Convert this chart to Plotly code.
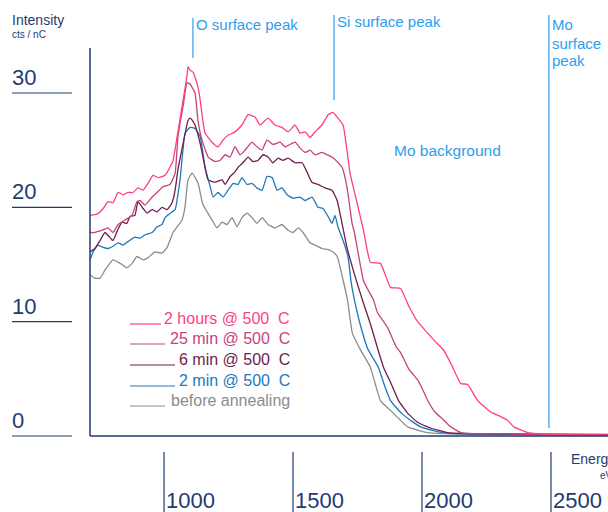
import plotly.graph_objects as go

# ---------------- data ----------------
energy_2h = [713, 740, 764, 783, 802, 822, 841, 860, 880, 899, 919, 938, 957, 977, 1004, 1023, 1035, 1051,
             1074, 1089, 1093, 1101, 1113, 1132, 1140, 1159, 1186, 1209, 1229, 1248, 1275, 1302, 1326, 1353,
             1372, 1403, 1430, 1457, 1481, 1508, 1527, 1547, 1566, 1585, 1612, 1636, 1655, 1674, 1694, 1709,
             1721, 1746, 1773, 1800, 1839, 1878, 1917, 1950, 1983, 2022, 2050, 2084, 2115, 2150, 2177, 2216,
             2266, 2305, 2330, 2356, 2410, 2450, 2500, 2600, 2725]
int_2h = [19.3, 19.4, 19.9, 20.5, 20.4, 21.3, 21.1, 21.3, 21.3, 21.7, 21.5, 22.1, 22.8, 22.6, 22.8, 23.5, 24.1, 26.2,
          29.4, 31.5, 32.3, 32.0, 31.8, 30.5, 29.4, 26.5, 25.7, 25.3, 25.9, 26.3, 26.6, 27.2, 28.1, 27.9,
          27.2, 27.8, 27.2, 27.0, 26.6, 27.2, 26.5, 26.6, 26.1, 26.6, 27.2, 28.1, 28.3, 27.8, 27.2, 25.0,
          23.0, 20.6, 18.0, 15.2, 15.1, 13.0, 12.9, 11.3, 10.0, 9.0, 8.3, 7.5, 6.2, 4.6, 4.5, 3.1,
          2.1, 1.7, 1.4, 0.8, 0.3, 0.2, 0.15, 0.12, 0.1]

energy_25m = [713, 732, 760, 783, 802, 822, 849, 876, 895, 907, 926, 954, 973, 996, 1023, 1043, 1054, 1075,
              1089, 1100, 1120, 1132, 1147, 1171, 1198, 1217, 1237, 1256, 1275, 1295, 1314, 1341, 1360, 1380,
              1399, 1422, 1450, 1469, 1488, 1508, 1527, 1547, 1566, 1585, 1612, 1632, 1651, 1671, 1690, 1709,
              1729, 1738, 1773, 1795, 1812, 1827, 1866, 1900, 1917, 1950, 1983, 2006, 2022, 2050, 2084, 2111,
              2150, 2200, 2300, 2400, 2725]
int_25m = [17.8, 17.8, 18.0, 18.2, 17.8, 18.5, 18.9, 19.3, 20.5, 20.6, 20.2, 20.9, 21.3, 21.8, 22.0, 23.0, 26.2, 29.0,
           30.9, 30.8, 30.0, 27.5, 25.9, 24.4, 24.0, 24.1, 24.6, 24.4, 25.3, 24.6, 25.0, 25.7, 25.3, 25.0,
           25.9, 25.5, 25.7, 25.3, 25.5, 25.7, 25.2, 24.8, 25.0, 24.6, 24.8, 24.6, 24.4, 24.0, 23.5, 21.8,
           18.6, 17.8, 13.6, 12.6, 11.9, 10.8, 9.5, 7.8, 7.3, 5.8, 4.9, 3.9, 3.1, 2.1, 1.4, 0.8,
           0.3, 0.2, 0.2, 0.15, 0.1]

energy_6m = [713, 732, 752, 771, 802, 818, 837, 856, 868, 887, 899, 919, 934, 954, 973, 992, 1012, 1031,
             1043, 1054, 1074, 1093, 1101, 1113, 1120, 1140, 1159, 1171, 1198, 1225, 1237, 1256, 1275, 1287,
             1306, 1326, 1345, 1364, 1384, 1403, 1422, 1442, 1461, 1481, 1508, 1535, 1554, 1573, 1597, 1624,
             1651, 1671, 1690, 1709, 1740, 1769, 1800, 1830, 1851, 1880, 1909, 1944, 1983, 2033, 2099, 2200,
             2725]
int_6m = [16.1, 16.4, 17.1, 17.8, 17.1, 17.9, 18.7, 18.6, 19.2, 19.3, 20.5, 19.9, 19.5, 19.8, 19.6, 20.0, 19.8, 20.4,
          21.5, 23.3, 25.6, 27.6, 27.8, 27.5, 27.2, 25.6, 23.5, 22.4, 22.2, 22.4, 22.0, 22.7, 23.1, 23.5,
          23.9, 24.4, 24.0, 24.1, 24.6, 24.4, 23.9, 24.3, 24.1, 24.3, 23.9, 23.9, 23.1, 22.2, 22.0, 21.7,
          21.5, 20.6, 18.6, 16.5, 14.0, 11.9, 9.8, 7.5, 6.0, 4.6, 3.1, 2.0, 1.2, 0.7, 0.3, 0.2,
          0.15]

energy_2m = [713, 725, 744, 764, 783, 802, 822, 841, 860, 887, 907, 926, 954, 973, 992, 1004, 1031, 1043,
             1062, 1082, 1101, 1120, 1140, 1159, 1179, 1190, 1209, 1229, 1248, 1268, 1287, 1302, 1322, 1341,
             1360, 1380, 1399, 1419, 1438, 1457, 1477, 1500, 1527, 1547, 1574, 1597, 1616, 1636, 1651, 1663,
             1674, 1694, 1713, 1725, 1738, 1760, 1790, 1831, 1855, 1878, 1920, 1960, 1995, 2040, 2084, 2200,
             2725]
int_2m = [15.4, 16.1, 16.7, 16.5, 16.4, 16.6, 16.9, 16.7, 17.0, 17.4, 17.3, 17.6, 17.8, 18.3, 18.5, 19.1, 19.6, 19.8,
          22.4, 26.5, 27.0, 26.9, 26.2, 23.5, 21.8, 20.9, 21.3, 20.9, 21.5, 22.1, 22.0, 22.6, 22.0, 22.1,
          21.7, 21.5, 22.7, 22.6, 21.5, 21.7, 21.1, 20.8, 20.9, 20.6, 20.9, 20.0, 19.9, 19.2, 18.6, 19.3,
          18.3, 17.1, 15.7, 13.5, 11.9, 9.8, 7.6, 6.0, 4.4, 3.1, 2.0, 1.3, 0.8, 0.5, 0.3, 0.15,
          0.1]

energy_before = [713, 732, 752, 771, 802, 837, 856, 876, 895, 919, 938, 965, 992, 1012, 1035, 1070, 1081, 1093,
                 1109, 1132, 1150, 1186, 1205, 1225, 1244, 1264, 1283, 1302, 1322, 1341, 1360, 1380, 1403, 1430,
                 1457, 1481, 1500, 1520, 1539, 1566, 1585, 1612, 1636, 1655, 1671, 1711, 1730, 1760, 1800, 1839,
                 1880, 1944, 2022, 2080, 2200, 2725]
int_before = [14.1, 13.8, 13.8, 14.5, 15.4, 15.0, 14.7, 15.1, 15.7, 15.4, 15.6, 16.1, 16.0, 16.5, 17.8, 18.9, 20.0, 22.4,
              23.0, 22.1, 20.3, 18.9, 18.2, 18.7, 18.5, 19.1, 18.3, 19.1, 19.5, 19.1, 18.6, 19.1, 18.5, 18.2,
              18.5, 18.0, 17.8, 18.2, 17.8, 16.9, 16.7, 16.4, 16.3, 16.1, 15.7, 11.9, 9.0, 7.6, 6.0, 3.1,
              2.2, 0.8, 0.3, 0.2, 0.15, 0.1]

series_labels = ["2 hours @ 500\u00a0\u00a0C", "25 min @ 500\u00a0\u00a0C", "6 min @ 500\u00a0\u00a0C",
                 "2 min @ 500\u00a0\u00a0C", "before annealing"]
series_colors = ["#ff3f80", "#c4437f", "#6d1d50", "#1e78bc", "#8c8c8c"]

x_tick_values = [1000, 1500, 2000, 2500]
y_tick_values = [0, 10, 20, 30]

peak_energies = [1112, 1659, 2492]
peak_labels = ["O surface peak", "Si surface peak", "Mo<br>surface<br>peak"]

# ---------------- layout constants ----------------
W, H = 608, 512
ML, MR, MT, MB = 90, 0, 10, 76
X0, X1 = 713, 2721
Y1 = (H - MB - MT) / 11.433
NAVY = "#1f3b72"
BLUE = "#2b9ef0"
FONT = "Liberation Sans, Arial, sans-serif"

pw, ph = W - ML - MR, H - MT - MB


def pxx(px):
    return (px - ML) / pw


def pxy(py):
    return (H - MB - py) / ph


def ex(e):
    return (e - X0) / (X1 - X0)


fig = go.Figure()

data = [(energy_before, int_before), (energy_2m, int_2m), (energy_6m, int_6m),
        (energy_25m, int_25m), (energy_2h, int_2h)]
order = [4, 3, 2, 1, 0]
for (xs, ys), i in zip(data, order):
    fig.add_trace(go.Scatter(x=xs, y=ys, mode="lines", name=series_labels[i],
                             line=dict(color=series_colors[i], width=1.3, shape="spline", smoothing=0.4),
                             hoverinfo="skip", showlegend=False))

shapes = []
annotations = []

# axis lines
shapes.append(dict(type="line", xref="paper", yref="paper", x0=0, x1=0, y0=0, y1=pxy(48),
                   line=dict(color=NAVY, width=1.5)))
shapes.append(dict(type="line", xref="paper", yref="paper", x0=0, x1=1, y0=0, y1=0,
                   line=dict(color=NAVY, width=1.5)))

# y ticks: label + underline
for v in y_tick_values:
    yp = pxy(H - MB - v * 11.433)
    shapes.append(dict(type="line", xref="paper", yref="paper", x0=pxx(12), x1=pxx(72), y0=yp, y1=yp,
                       line=dict(color=NAVY, width=1.2)))
    annotations.append(dict(xref="paper", yref="paper", x=pxx(10), y=yp, yshift=1, text=str(v),
                            xanchor="left", yanchor="bottom", showarrow=False,
                            font=dict(family=FONT, size=22, color=NAVY)))

# x ticks: long line below axis + label at its lower right
for t in x_tick_values:
    xp = ex(t)
    shapes.append(dict(type="line", xref="paper", yref="paper", x0=xp, x1=xp, y0=pxy(452), y1=pxy(512),
                       line=dict(color=NAVY, width=1.2)))
    annotations.append(dict(xref="paper", yref="paper", x=xp, xshift=0, y=pxy(500), text=str(t),
                            xanchor="left", yanchor="middle", showarrow=False,
                            font=dict(family=FONT, size=22, color=NAVY)))

# axis titles
annotations.append(dict(xref="paper", yref="paper", x=pxx(10), y=pxy(20), text="Intensity",
                        xanchor="left", yanchor="middle", showarrow=False,
                        font=dict(family=FONT, size=14, color=NAVY)))
annotations.append(dict(xref="paper", yref="paper", x=pxx(10), y=pxy(35), text="cts / nC",
                        xanchor="left", yanchor="middle", showarrow=False,
                        font=dict(family=FONT, size=10, color=NAVY)))
annotations.append(dict(xref="paper", yref="paper", x=pxx(569), y=pxy(459), text="Energy",
                        xanchor="left", yanchor="middle", showarrow=False,
                        font=dict(family=FONT, size=14, color=NAVY)))
annotations.append(dict(xref="paper", yref="paper", x=pxx(598), y=pxy(475), text="eV",
                        xanchor="left", yanchor="middle", showarrow=False,
                        font=dict(family=FONT, size=10, color=NAVY)))

# peak markers
peak_line_tops = [18, 15, 15]
peak_line_bottoms = [58, 100, 428]
peak_text_centers = [[25], [22], [24, 43, 61]]
for e, lab, top, bot, centers in zip(peak_energies, peak_labels, peak_line_tops, peak_line_bottoms,
                                     peak_text_centers):
    xp = ex(e)
    shapes.append(dict(type="line", xref="paper", yref="paper", x0=xp, x1=xp, y0=pxy(bot), y1=pxy(top),
                       line=dict(color=BLUE, width=1.2)))
    for part, cy in zip(lab.split("<br>"), centers):
        annotations.append(dict(xref="paper", yref="paper", x=xp, xshift=1, y=pxy(cy), text=part,
                                xanchor="left", yanchor="middle", align="left", showarrow=False,
                                font=dict(family=FONT, size=15, color=BLUE)))

annotations.append(dict(xref="paper", yref="paper", x=pxx(392), y=pxy(150), text="Mo background",
                        xanchor="left", yanchor="middle", showarrow=False,
                        font=dict(family=FONT, size=15.5, color=BLUE)))

# custom legend
row_y = [318, 338, 359, 380, 400]
line_end = [161, 165, 175, 175, 165]
for lab, col, ry, le in zip(series_labels, series_colors, row_y, line_end):
    shapes.append(dict(type="line", xref="paper", yref="paper", x0=pxx(130), x1=pxx(le),
                       y0=pxy(ry + 6), y1=pxy(ry + 6), line=dict(color=col, width=1.2)))
    annotations.append(dict(xref="paper", yref="paper", x=pxx(292), y=pxy(ry), text=lab,
                            xanchor="right", yanchor="middle", showarrow=False,
                            font=dict(family=FONT, size=16, color=col)))

fig.update_layout(
    width=W, height=H,
    margin=dict(l=ML, r=MR, t=MT, b=MB, pad=0),
    paper_bgcolor="white", plot_bgcolor="white",
    xaxis=dict(range=[X0, X1], visible=False, showgrid=False, zeroline=False),
    yaxis=dict(range=[0, Y1], visible=False, showgrid=False, zeroline=False),
    shapes=shapes, annotations=annotations,
    showlegend=False,
)

fig.write_html("out.html", config={"displayModeBar": False},
               post_script="document.body.style.margin='0';document.body.style.padding='0';")
